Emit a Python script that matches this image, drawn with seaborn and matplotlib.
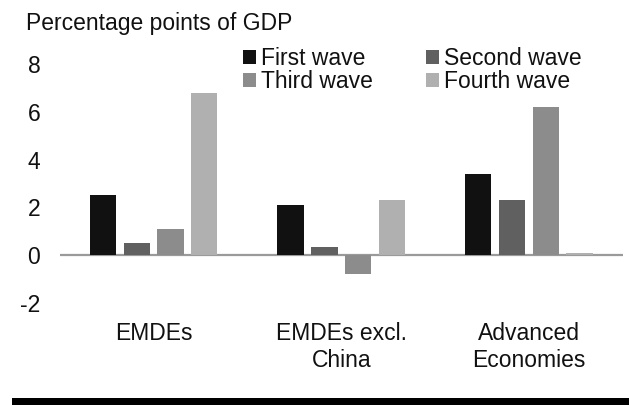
import pandas as pd
import matplotlib.pyplot as plt
import seaborn as sns
from matplotlib.patches import Rectangle

# Data
regions = ['EMDEs', 'EMDEs excl.\nChina', 'Advanced\nEconomies']
waves = ['First wave', 'Second wave', 'Third wave', 'Fourth wave']
first_wave = [2.5, 2.1, 3.4]
second_wave = [0.5, 0.33, 2.3]
third_wave = [1.1, -0.8, 6.2]
fourth_wave = [6.8, 2.3, 0.08]

rows = []
for wave, vals in zip(waves, [first_wave, second_wave, third_wave, fourth_wave]):
    for region, v in zip(regions, vals):
        rows.append({'region': region, 'wave': wave, 'value': v})
df = pd.DataFrame(rows)

palette = {'First wave': '#111111', 'Second wave': '#606060',
           'Third wave': '#8c8c8c', 'Fourth wave': '#b0b0b0'}

sns.set_style('white')
plt.rcParams['font.family'] = ['Liberation Sans', 'DejaVu Sans']
plt.rcParams['text.color'] = '#111111'
plt.rcParams['axes.unicode_minus'] = False

fs = 16.5

fig = plt.figure(figsize=(6.29, 4.05), dpi=100)
ax = fig.add_axes([0.095, 0.252, 0.895, 0.590])

sns.barplot(data=df, x='region', y='value', hue='wave', order=regions,
            hue_order=waves, palette=palette, width=0.72, gap=0.22,
            saturation=1, linewidth=0, ax=ax)

ax.axhline(0, color='#9a9a9a', lw=1.6, zorder=0.5)
ax.set_ylim(-2, 8)
ax.set_xlim(-0.5, 2.5)
ax.set_yticks([-2, 0, 2, 4, 6, 8])
ax.set_xlabel('')
ax.set_ylabel('')
sns.despine(ax=ax, left=True, bottom=True)
ax.tick_params(axis='y', length=0, pad=14, labelsize=fs, labelcolor='#111111')
ax.tick_params(axis='x', length=0, pad=14, labelsize=fs, labelcolor='#111111')

# Legend: rows First/Second, Third/Fourth (matplotlib fills by column)
handles, labels = ax.get_legend_handles_labels()
idx = [0, 2, 1, 3]
ax.legend([handles[i] for i in idx], [labels[i] for i in idx], ncol=2,
          loc='upper left', bbox_to_anchor=(243 / 629, 1 - 47 / 405),
          bbox_transform=fig.transFigure, frameon=False, fontsize=fs,
          borderpad=0, borderaxespad=0, handlelength=0.55, handleheight=0.55,
          handletextpad=0.25, labelspacing=0.0, columnspacing=2.3)

fig.text(26 / 629, 1 - 30 / 405, 'Percentage points of GDP', fontsize=fs,
         ha='left', va='baseline', color='#111111')

# black band at the bottom
fig.patches.append(Rectangle((12 / 629, 0), 1, 7.5 / 405, transform=fig.transFigure,
                             facecolor='black', edgecolor='none'))

fig.savefig('out.png', dpi=100)
